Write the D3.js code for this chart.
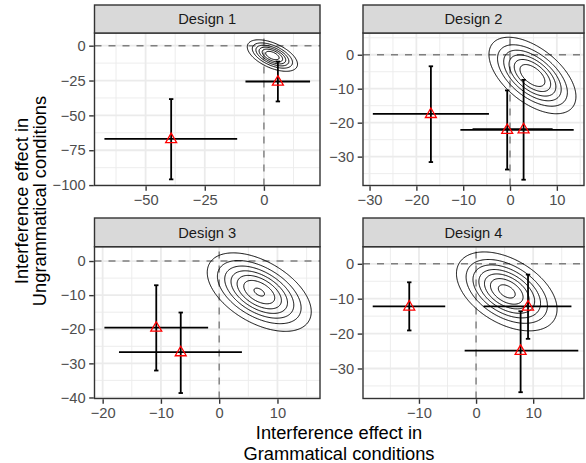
<!DOCTYPE html>
<html><head><meta charset="utf-8">
<script src="https://cdn.jsdelivr.net/npm/d3@7"></script>
<style>body{margin:0;background:#fff} text{font-family:"Liberation Sans",Arial,sans-serif}</style>
</head><body><svg id="c" width="586" height="463"></svg>
<script>
// ---------- data ----------
const designs = ["Design 1", "Design 2", "Design 3", "Design 4"];
// observed interference effects (design index 0..3), point estimate and intervals
const obsDesign = [0, 0, 1, 1, 1, 2, 2, 3, 3, 3];
const obsX   = [-39.2, 5.9, -16.9, -0.6, 2.9, -10.8, -6.6, -11.7, 9.1, 7.8];
const obsXlo = [-67.4, -7.8, -29.3, -10.6, -8.0, -19.7, -17.2, -18.1, 1.3, -2.0];
const obsXhi = [-11.3, 19.5, -4.5, 13.6, 9.1, -1.9, 3.9, -5.4, 16.7, 17.9];
const obsY   = [-66.9, -25.7, -17.4, -22.1, -21.9, -19.5, -26.7, -12.2, -12.2, -24.9];
const obsYlo = [-95.9, -40.0, -31.6, -33.8, -36.8, -32.1, -38.7, -19.1, -21.5, -36.8];
const obsYhi = [-38.3, -11.4, -3.4, -10.5, -7.4, -7.1, -15.1, -5.3, -3.1, -13.6];

// predicted (model) bivariate distribution per design
const predMeanX = [3.4, 4.7, 6.8, 5.3];
const predMeanY = [-6.8, -6.0, -9.0, -7.8];
const predSdX   = [5.4, 4.7, 4.5, 4.4];
const predSdY   = [5.75, 5.7, 5.8, 5.65];
const predRho   = [-0.55, -0.55, -0.5, -0.45];
const contourLevels = [
  [0.145, 0.29, 0.435, 0.58, 0.725, 0.87],
  [0.142, 0.284, 0.426, 0.568, 0.71, 0.852],
  [0.14, 0.28, 0.42, 0.56, 0.70, 0.84, 0.98],
  [0.135, 0.27, 0.405, 0.54, 0.675, 0.81, 0.945]
];

// axes
const xDomains = [[-71.6, 23.7], [-31.4, 15.8], [-21.4, 17.3], [-19.8, 18.9]];
const yDomains = [[-100.3, 9.1], [-38.5, 6.4], [-40.3, 4.2], [-38.6, 4.9]];
const xTicks = [[-50, -25, 0], [-30, -20, -10, 0, 10], [-20, -10, 0, 10], [-10, 0, 10]];
const yTicks = [[0, -25, -50, -75, -100], [0, -10, -20, -30], [0, -10, -20, -30, -40], [0, -10, -20, -30]];
const xTitle = ["Interference effect in", "Grammatical conditions"];
const yTitle = ["Interference effect in", "Ungrammatical conditions"];

// ---------- layout ----------
const panels = [
  {l: 94.5, r: 320, t: 33, b: 185.5, st: 5},
  {l: 363, r: 584, t: 33, b: 185.5, st: 5},
  {l: 94.5, r: 320, t: 246.7, b: 398.5, st: 218},
  {l: 363, r: 584, t: 246.7, b: 398.5, st: 218}
];

const svg = d3.select("#c");
const fmt = v => (v < 0 ? "\u2212" + Math.abs(v) : "" + v);

function minorOf(ticks, dom) {
  const s = [...ticks].sort((a, b) => a - b);
  const step = s[1] - s[0];
  const out = [];
  for (let v = s[0] - step / 2; v <= s[s.length - 1] + step; v += step) {
    if (v > dom[0] && v < dom[1]) out.push(v);
  }
  return out;
}

designs.forEach((name, k) => {
  const p = panels[k];
  const xs = d3.scaleLinear().domain(xDomains[k]).range([p.l, p.r]);
  const ys = d3.scaleLinear().domain(yDomains[k]).range([p.b, p.t]);
  const g = svg.append("g");

  g.append("rect").attr("x", p.l).attr("y", p.t).attr("width", p.r - p.l).attr("height", p.b - p.t).attr("fill", "#fff");
  minorOf(xTicks[k], xDomains[k]).forEach(v => g.append("line").attr("x1", xs(v)).attr("x2", xs(v)).attr("y1", p.t).attr("y2", p.b).attr("stroke", "#EBEBEB").attr("stroke-width", 0.9));
  minorOf(yTicks[k], yDomains[k]).forEach(v => g.append("line").attr("y1", ys(v)).attr("y2", ys(v)).attr("x1", p.l).attr("x2", p.r).attr("stroke", "#EBEBEB").attr("stroke-width", 0.9));
  xTicks[k].forEach(v => g.append("line").attr("x1", xs(v)).attr("x2", xs(v)).attr("y1", p.t).attr("y2", p.b).attr("stroke", "#EBEBEB").attr("stroke-width", 1.8));
  yTicks[k].forEach(v => g.append("line").attr("y1", ys(v)).attr("y2", ys(v)).attr("x1", p.l).attr("x2", p.r).attr("stroke", "#EBEBEB").attr("stroke-width", 1.8));

  g.append("line").attr("x1", p.l).attr("x2", p.r).attr("y1", ys(0)).attr("y2", ys(0))
    .attr("stroke", "#7F7F7F").attr("stroke-width", 1.4).attr("stroke-dasharray", "7,7");
  g.append("line").attr("x1", xs(0)).attr("x2", xs(0)).attr("y1", p.b).attr("y2", p.t)
    .attr("stroke", "#7F7F7F").attr("stroke-width", 1.4).attr("stroke-dasharray", "7,7");

  // contours of predicted distribution
  const nx = 260, ny = 200;
  const [x0, x1] = xDomains[k], [y0, y1] = yDomains[k];
  const mx = predMeanX[k], my = predMeanY[k], sx = predSdX[k], sy = predSdY[k], rho = predRho[k];
  const vals = new Array(nx * ny);
  for (let j = 0; j < ny; j++) {
    const y = y1 - j * (y1 - y0) / (ny - 1);
    for (let i = 0; i < nx; i++) {
      const x = x0 + i * (x1 - x0) / (nx - 1);
      const dx = (x - mx) / sx, dy = (y - my) / sy;
      const q = (dx * dx - 2 * rho * dx * dy + dy * dy) / (1 - rho * rho);
      vals[j * nx + i] = Math.exp(-q / 2);
    }
  }
  const cont = d3.contours().size([nx, ny]).thresholds(contourLevels[k])(vals);
  const proj = d3.geoTransform({
    point: function (gx, gy) {
      this.stream.point(xs(x0 + gx * (x1 - x0) / (nx - 1)), ys(y1 - gy * (y1 - y0) / (ny - 1)));
    }
  });
  const path = d3.geoPath(proj);
  g.selectAll("path.ct").data(cont).enter().append("path").attr("class", "ct")
    .attr("d", path).attr("fill", "none").attr("stroke", "#000").attr("stroke-width", 1);

  const idx = d3.range(obsDesign.length).filter(i => obsDesign[i] === k);
  idx.forEach(i => {
    g.append("line").attr("x1", xs(obsXlo[i])).attr("x2", xs(obsXhi[i])).attr("y1", ys(obsY[i])).attr("y2", ys(obsY[i]))
      .attr("stroke", "#000").attr("stroke-width", 1.8);
    g.append("line").attr("x1", xs(obsX[i])).attr("x2", xs(obsX[i])).attr("y1", ys(obsYlo[i])).attr("y2", ys(obsYhi[i]))
      .attr("stroke", "#000").attr("stroke-width", 1.8);
    [obsYlo[i], obsYhi[i]].forEach(v => g.append("line").attr("x1", xs(obsX[i]) - 2.2).attr("x2", xs(obsX[i]) + 2.2)
      .attr("y1", ys(v)).attr("y2", ys(v)).attr("stroke", "#000").attr("stroke-width", 1.8));
  });
  idx.forEach(i => {
    g.append("path").attr("d", d3.symbol().type(d3.symbolTriangle).size(52)())
      .attr("transform", `translate(${xs(obsX[i])},${ys(obsY[i]) + 0.5})`)
      .attr("fill", "none").attr("stroke", "#FF0000").attr("stroke-width", 1.3);
  });

  g.append("rect").attr("x", p.l).attr("y", p.t).attr("width", p.r - p.l).attr("height", p.b - p.t)
    .attr("fill", "none").attr("stroke", "#333333").attr("stroke-width", 1.4);
  g.append("rect").attr("x", p.l).attr("y", p.st).attr("width", p.r - p.l).attr("height", p.t - p.st)
    .attr("fill", "#D9D9D9").attr("stroke", "#333333").attr("stroke-width", 1.4);
  g.append("text").attr("x", (p.l + p.r) / 2).attr("y", (p.st + p.t) / 2 + 5.2).attr("text-anchor", "middle")
    .attr("font-size", 14.7).attr("fill", "#1A1A1A").text(name);

  const xa = d3.axisBottom(xs).tickValues(xTicks[k]).tickFormat(fmt).tickSize(4.6).tickPadding(3.5);
  const ya = d3.axisLeft(ys).tickValues(yTicks[k]).tickFormat(fmt).tickSize(4.6).tickPadding(3.5);
  const gx = svg.append("g").attr("transform", `translate(0,${p.b + 0.7})`).call(xa);
  const gy = svg.append("g").attr("transform", `translate(${p.l - 0.7},0)`).call(ya);
  [gx, gy].forEach(a => {
    a.select(".domain").remove();
    a.selectAll(".tick line").attr("stroke", "#333333").attr("stroke-width", 1.4);
    a.selectAll(".tick text").attr("fill", "#4D4D4D").attr("font-size", 14.7)
      .attr("font-family", '"Liberation Sans",Arial,sans-serif');
  });
});

const xt = svg.append("text").attr("text-anchor", "middle").attr("font-size", 18.3).attr("fill", "#000");
xt.append("tspan").attr("x", 339).attr("y", 439).text(xTitle[0]);
xt.append("tspan").attr("x", 339).attr("y", 459.5).text(xTitle[1]);
const yt = svg.append("text").attr("text-anchor", "middle").attr("font-size", 18.3).attr("fill", "#000")
  .attr("transform", "translate(0,201) rotate(-90)");
yt.append("tspan").attr("x", 0).attr("y", 28.3).text(yTitle[0]);
yt.append("tspan").attr("x", 0).attr("y", 46).text(yTitle[1]);
</script></body></html>
